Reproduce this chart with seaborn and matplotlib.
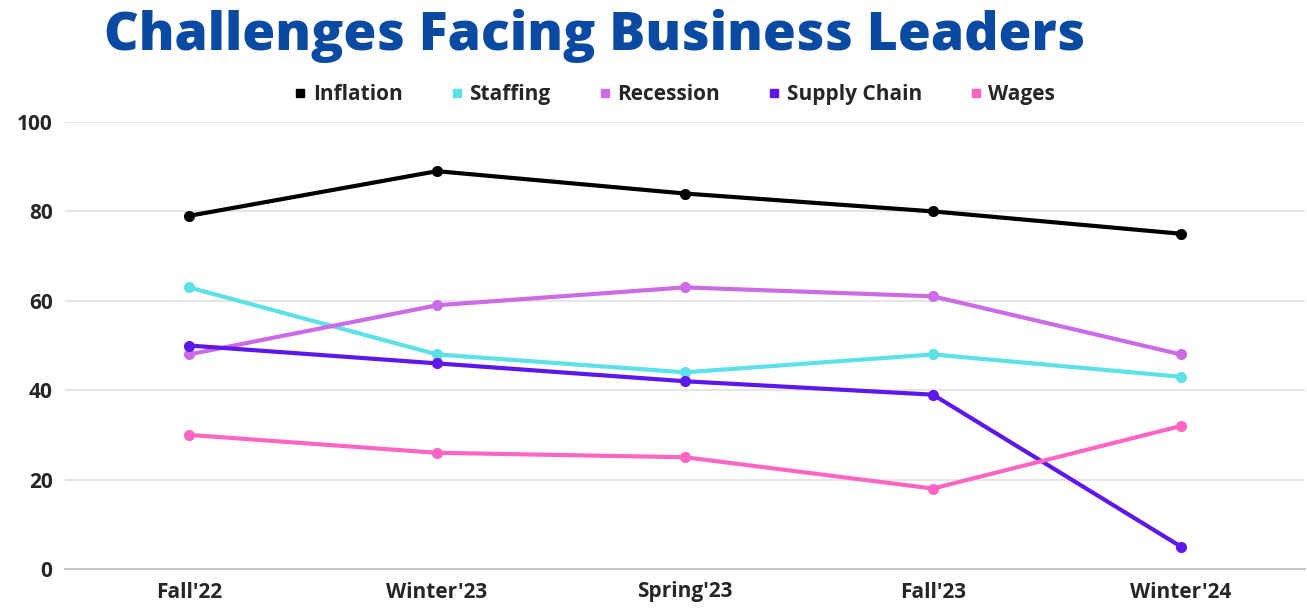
import pandas as pd
import matplotlib.pyplot as plt
import seaborn as sns
from matplotlib.lines import Line2D

# Datos
periodos = ["Fall'22", "Winter'23", "Spring'23", "Fall'23", "Winter'24"]
inflation = [79, 89, 84, 80, 75]
staffing = [63, 48, 44, 48, 43]
recession = [48, 59, 63, 61, 48]
supply_chain = [50, 46, 42, 39, 5]
wages = [30, 26, 25, 18, 32]

series = {
    'Inflation': inflation,
    'Staffing': staffing,
    'Recession': recession,
    'Supply Chain': supply_chain,
    'Wages': wages,
}
colores = {
    'Inflation': '#000000',
    'Staffing': '#5ce1e6',
    'Recession': '#cb6ce6',
    'Supply Chain': '#5e17eb',
    'Wages': '#ff66c4',
}

df = pd.DataFrame([
    {'Periodo': p, 'Serie': nombre, 'Valor': v}
    for nombre, valores in series.items()
    for p, v in zip(periodos, valores)
])
df['x'] = df['Periodo'].map({p: i for i, p in enumerate(periodos)})

sns.set_style('white')
plt.rcParams['font.family'] = ['Open Sans', 'DejaVu Sans']

fig = plt.figure(figsize=(13.07, 6.10), dpi=100)
ax = fig.add_axes([65 / 1307, 1 - 569 / 610, 1240 / 1307, 447 / 610])

sns.lineplot(data=df, x='x', y='Valor', hue='Serie', palette=colores,
             hue_order=list(series.keys()), marker='o', markersize=8,
             markeredgewidth=0, linewidth=3, ax=ax, legend=False, zorder=3)

ax.set_xlim(-0.5, len(periodos) - 0.5)
ax.set_ylim(0, 100)
ax.set_xticks(range(len(periodos)))
ax.set_xticklabels(periodos)
ax.set_yticks(range(0, 101, 20))
ax.tick_params(axis='both', length=0, labelsize=15, pad=9)
for lbl in ax.get_xticklabels() + ax.get_yticklabels():
    lbl.set_fontweight('bold')
ax.set_xlabel('')
ax.set_ylabel('')
ax.grid(axis='y', color='#e3e3e3', linewidth=1.3, zorder=0)
ax.grid(axis='x', visible=False)
for s in ['top', 'right', 'left']:
    ax.spines[s].set_visible(False)
ax.spines['bottom'].set_color('#c8c8c8')
ax.spines['bottom'].set_linewidth(1.5)

# Leyenda con cuadrados
handles = [Line2D([0], [0], marker='s', linestyle='', color=c, markersize=6)
           for c in colores.values()]
ax.legend(handles, list(series.keys()), loc='lower center',
          bbox_to_anchor=(0.49, 0.995), ncol=5, frameon=False,
          prop={'size': 15, 'weight': 'bold'}, handletextpad=0.1,
          columnspacing=2.1, handlelength=1.0)

fig.text(0.455, 1 - 50 / 610, 'Challenges Facing Business Leaders',
         ha='center', va='baseline', fontsize=38.5, fontweight='heavy',
         color='#0b4aa3')

plt.savefig('out.png', dpi=100)
